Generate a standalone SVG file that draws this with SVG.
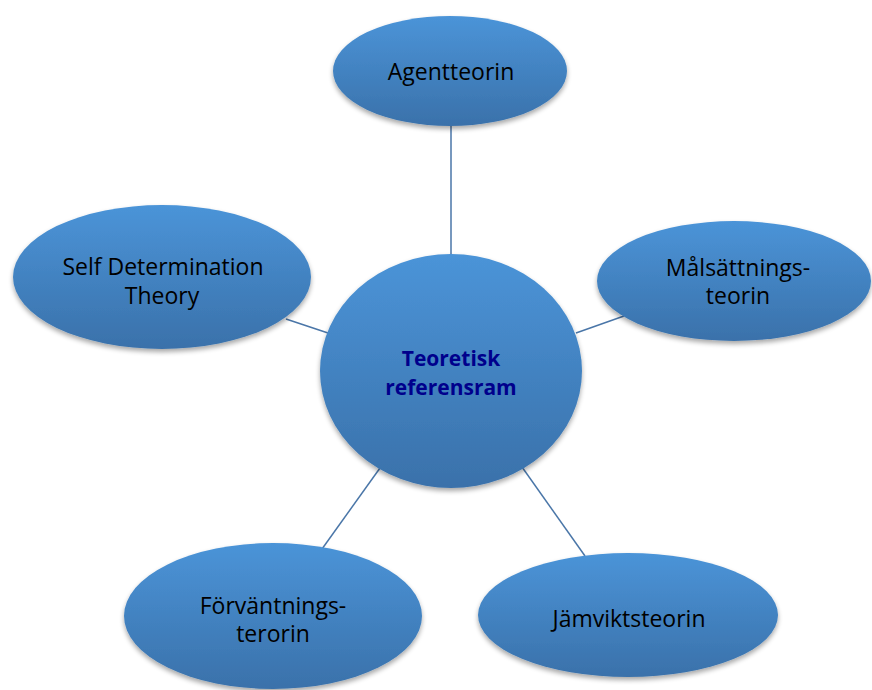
<svg xmlns="http://www.w3.org/2000/svg" width="872" height="690" viewBox="0 0 872 690">
<style>
.node{fill:url(#g);filter:url(#sh)}
.t{font-family:"Open Sans","Noto Sans",sans-serif;font-size:23px;fill:#000;text-anchor:middle}
.c{font-family:"Open Sans","Noto Sans",sans-serif;font-size:21px;font-weight:bold;fill:#00008c;text-anchor:middle}
.ln{stroke:#4a76a8;stroke-width:1.5;fill:none}
</style>
<defs>
<linearGradient id="g" x1="0" y1="0" x2="0" y2="1">
<stop offset="0" stop-color="#4b94d8"/>
<stop offset="1" stop-color="#3a71aa"/>
</linearGradient>
<filter id="sh" x="-10%" y="-10%" width="120%" height="125%">
<feGaussianBlur in="SourceAlpha" stdDeviation="2.5"/>
<feOffset dx="0" dy="3" result="b"/>
<feComponentTransfer><feFuncA type="linear" slope="0.35"/></feComponentTransfer>
<feMerge><feMergeNode/><feMergeNode in="SourceGraphic"/></feMerge>
</filter>
</defs>
<rect width="872" height="690" fill="#fff"/>
<g id="connectors">
<line class="ln" x1="451" y1="126" x2="451" y2="258"/>
<line class="ln" x1="286" y1="319" x2="331" y2="334"/>
<line class="ln" x1="576" y1="333" x2="624" y2="316"/>
<line class="ln" x1="322" y1="549" x2="380" y2="468"/>
<line class="ln" x1="522" y1="467" x2="585" y2="556"/>
</g>
<g id="agentteorin">
<ellipse class="node" cx="450" cy="71" rx="117" ry="55"/>
<text class="t" x="451" y="80">Agentteorin</text>
</g>
<g id="self-determination">
<ellipse class="node" cx="162" cy="277" rx="149" ry="72"/>
<text class="t" x="163" y="275">Self Determination</text>
<text class="t" x="162" y="304">Theory</text>
</g>
<g id="malsattning">
<ellipse class="node" cx="734" cy="281" rx="137" ry="60"/>
<text class="t" x="738" y="276">Målsättnings-</text>
<text class="t" x="738" y="304">teorin</text>
</g>
<g id="forvantning">
<ellipse class="node" cx="273" cy="616" rx="149" ry="73"/>
<text class="t" x="273" y="614">Förväntnings-</text>
<text class="t" x="273" y="642">terorin</text>
</g>
<g id="jamvikt">
<ellipse class="node" cx="628" cy="615" rx="150" ry="62"/>
<text class="t" x="629" y="627">Jämviktsteorin</text>
</g>
<g id="center">
<ellipse class="node" cx="451" cy="371" rx="131" ry="117"/>
<text class="c" x="451" y="366">Teoretisk</text>
<text class="c" x="451" y="395">referensram</text>
</g>
</svg>
